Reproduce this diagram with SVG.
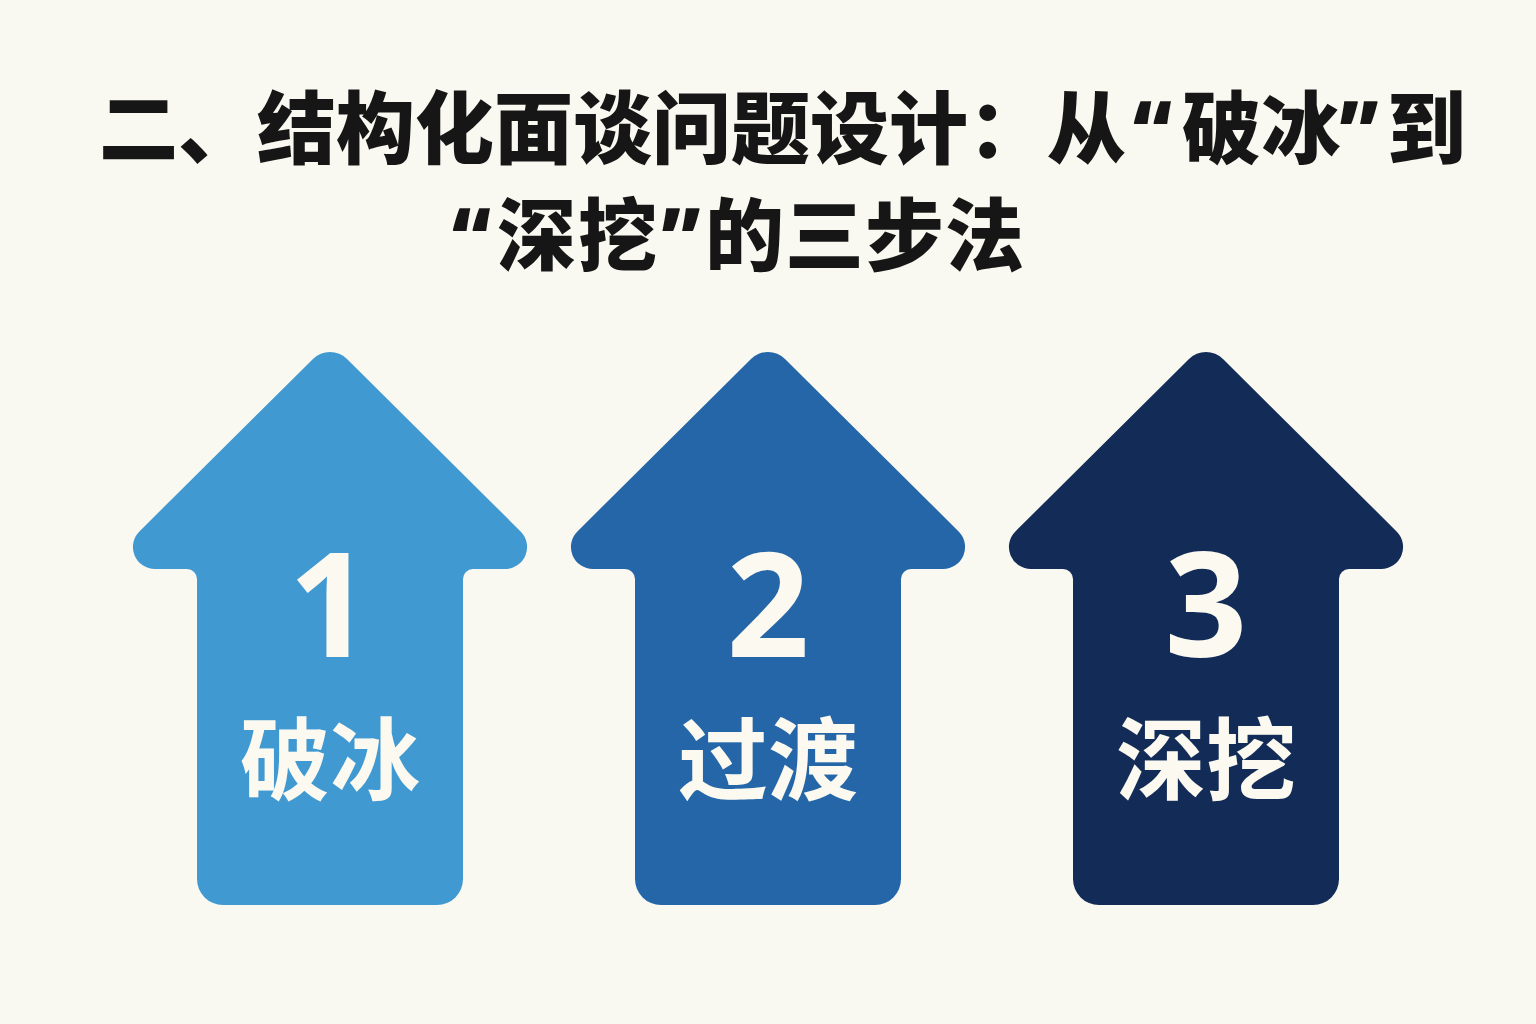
<svg xmlns="http://www.w3.org/2000/svg" width="1536" height="1024" viewBox="0 0 1536 1024">
  <defs>
    <path id="arrowShape" d="M -17,359 A 24 24 0 0 1 17,359 L 190.6,531.4 A 22 22 0 0 1 175,569 L 143,569 A 10 10 0 0 0 133,579 L 133,879 A 26 26 0 0 1 107,905 L -107,905 A 26 26 0 0 1 -133,879 L -133,579 A 10 10 0 0 0 -143,569 L -175,569 A 22 22 0 0 1 -190.6,531.4 Z"/>
  </defs>
  <style>
    .title { font-family: "Noto Sans", "Noto Sans CJK SC", sans-serif; font-weight: 900; font-size: 79px; fill: #161616; }
    .num { font-family: "Noto Sans", "Liberation Sans", sans-serif; font-weight: 700; font-size: 145px; fill: #FBF9F0; text-anchor: middle; }
    .lbl { font-family: "Noto Sans CJK SC", sans-serif; font-weight: 700; font-size: 90px; fill: #FBF9F0; text-anchor: middle; }
  </style>
  <rect width="1536" height="1024" fill="#FAF9F1"/>
  <g id="title">
    <text class="title" y="158"><tspan x="99">二、结构化面谈问题设计：从</tspan><tspan x="1133">“</tspan><tspan x="1182">破冰</tspan><tspan x="1339">”</tspan><tspan x="1387">到</tspan></text>
    <text class="title" y="265"><tspan x="452">“</tspan><tspan x="497">深</tspan><tspan x="578">挖</tspan><tspan x="661">”</tspan><tspan x="705">的</tspan><tspan x="785">三</tspan><tspan x="865">步</tspan><tspan x="945">法</tspan></text>
  </g>
  <g id="step1">
    <use href="#arrowShape" transform="translate(330,0)" fill="#4199D1"/>
    <text class="num" x="330" y="657">1</text>
    <text class="lbl" x="330" y="793">破冰</text>
  </g>
  <g id="step2">
    <use href="#arrowShape" transform="translate(768,0)" fill="#2466A7"/>
    <text class="num" x="768" y="657">2</text>
    <text class="lbl" x="768" y="793">过渡</text>
  </g>
  <g id="step3">
    <use href="#arrowShape" transform="translate(1206,0)" fill="#122C57"/>
    <text class="num" x="1206" y="657">3</text>
    <text class="lbl" x="1206" y="793">深挖</text>
  </g>
  <g id="connectors"/>
</svg>
